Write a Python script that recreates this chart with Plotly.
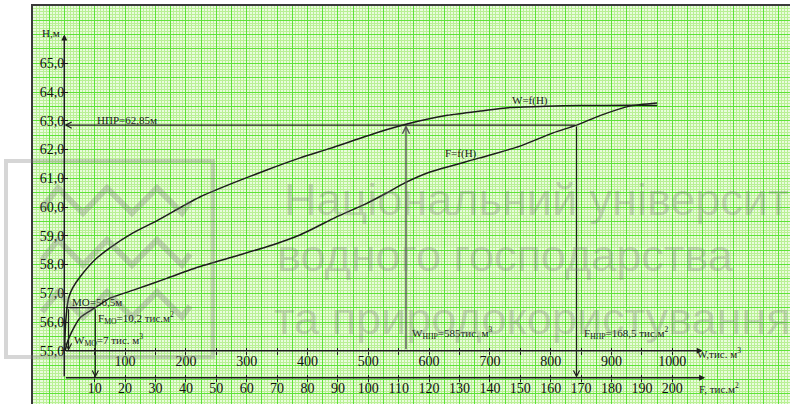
import plotly.graph_objects as go

# ---------------- data ----------------
H_TICKS = [55, 56, 57, 58, 59, 60, 61, 62, 63, 64, 65]
H_TICK_TEXT = ["55,0", "56,0", "57,0", "58,0", "59,0", "60,0",
               "61,0", "62,0", "63,0", "64,0", "65,0"]
W_TICKS = list(range(50, 1001, 50))
W_TICK_TEXT = [str(v) if v % 100 == 0 else "" for v in W_TICKS]
F_TICKS = list(range(10, 201, 10))
F_TICK_TEXT = [str(v) for v in F_TICKS]

# W = f(H) curve (W in thousand m3, H in m)
W_CURVE_W = [0.3, 1, 2, 3.5, 5, 8, 14, 25.8, 50, 75, 113, 152, 194, 223, 278,
             333, 388, 437, 519, 562, 630, 684, 733, 793, 848, 930, 975]
W_CURVE_H = [55.0, 55.4, 55.9, 56.3, 56.6, 56.9, 57.2, 57.57, 58.16, 58.58, 59.1,
             59.52, 60.02, 60.35, 60.84, 61.29, 61.71, 62.04, 62.62, 62.88, 63.19,
             63.34, 63.46, 63.51, 63.53, 63.54, 63.53]

# F = f(H) curve (F in thousand m2, H in m)
F_CURVE_F = [0.3, 1, 2.4, 5.2, 10.2, 15.0, 22.7, 33.7, 44.6, 55.6, 66.6, 77.5,
             89.4, 99.5, 106, 112, 120.3, 136.7, 149.9, 160.8, 168.5, 176.2, 186, 195]
F_CURVE_H = [55.0, 55.3, 55.65, 56.15, 56.5, 56.83, 57.11, 57.52, 57.93, 58.27,
             58.62, 59.03, 59.65, 60.13, 60.49, 60.84, 61.22, 61.71, 62.12, 62.58,
             62.85, 63.18, 63.51, 63.62]

# characteristic levels / guide lines
H_NPR = 62.85
W_NPR_LINE = 562      # where the vertical guide is drawn in the picture
F_NPR = 168.5
H_MO = 56.5
W_MO = 7
F_MO = 10.2
H_W_AXIS = 55.0
H_F_AXIS = 54.06
H_AXIS_TOP = 66.0
W_AXIS_END = 1050
F_AXIS_END = 210.8

# ---------------- layout geometry ----------------
FIG_W, FIG_H = 790, 404
M_L, M_R, M_T, M_B = 33, 0, 6, 0
PLOT_W = FIG_W - M_L - M_R
PLOT_H = FIG_H - M_T - M_B
X_RANGE_W = [-51.48, 1193.6]
W_PER_F = 5.0
X_RANGE_F = [v / W_PER_F for v in X_RANGE_W]
Y_RANGE = [53.150, 66.993]


def paper_y_of_h(h):
    return (h - Y_RANGE[0]) / (Y_RANGE[1] - Y_RANGE[0])


def paper_x_of_w(w):
    return (w - X_RANGE_W[0]) / (X_RANGE_W[1] - X_RANGE_W[0])


def px_x(px):
    return (px - M_L) / PLOT_W


def px_y(py):
    return (FIG_H - M_B - py) / PLOT_H


SERIF = "Liberation Serif"
INK = "#1c1c1c"
BG = "#e9fbdd"
MINOR = "#b9f095"
MAJOR = "#5ee238"

fig = go.Figure()

fig.add_trace(go.Scatter(x=W_CURVE_W, y=W_CURVE_H, xaxis="x", yaxis="y", mode="lines",
                         line=dict(color=INK, width=1.5, shape="spline", smoothing=0.6),
                         showlegend=False, hoverinfo="skip"))
fig.add_trace(go.Scatter(x=F_CURVE_F, y=F_CURVE_H, xaxis="x2", yaxis="y", mode="lines",
                         line=dict(color=INK, width=1.5, shape="spline", smoothing=0.6),
                         showlegend=False, hoverinfo="skip"))
# empty traces so every helper axis is drawn
for xa, ya in [("x3", "y"), ("x4", "y"), ("x5", "y"), ("x", "y2"), ("x", "y3")]:
    fig.add_trace(go.Scatter(x=[None], y=[None], xaxis=xa, yaxis=ya, mode="lines",
                             showlegend=False, hoverinfo="skip"))

tickfont = dict(family=SERIF, size=14, color="#111")
common_free = dict(showgrid=False, zeroline=False, showline=False, automargin=False,
                   fixedrange=True, anchor="free", tickcolor=INK, tickwidth=1)

layout = dict(
    width=FIG_W, height=FIG_H,
    margin=dict(l=M_L, r=M_R, t=M_T, b=M_B, pad=0, autoexpand=False),
    paper_bgcolor="white", plot_bgcolor=BG,
    showlegend=False,
    xaxis=dict(range=X_RANGE_W, tick0=0, dtick=25, showgrid=True, gridcolor=MAJOR,
               gridwidth=1, minor=dict(tick0=0, dtick=5, showgrid=True, gridcolor=MINOR,
                                        gridwidth=1),
               showticklabels=False, ticks="", zeroline=False, showline=True,
               linecolor="#3a3a3a", linewidth=1.5, side="top", automargin=False,
               fixedrange=True),
    yaxis=dict(range=Y_RANGE, tick0=55, dtick=0.5, showgrid=True, gridcolor=MAJOR,
               gridwidth=1, minor=dict(tick0=55, dtick=0.1, showgrid=True, gridcolor=MINOR,
                                        gridwidth=1),
               showticklabels=False, ticks="", zeroline=False, showline=True,
               linecolor="#3a3a3a", linewidth=1.5, side="left", automargin=False,
               fixedrange=True),
    # F scale: labels + inside ticks
    xaxis2=dict(overlaying="x", range=X_RANGE_F, position=paper_y_of_h(H_F_AXIS),
                tickmode="array", tickvals=F_TICKS, ticktext=F_TICK_TEXT, ticks="inside",
                ticklen=3, tickfont=tickfont, side="bottom", **common_free),
    # W scale: labels + inside ticks
    xaxis3=dict(overlaying="x", range=X_RANGE_W, position=paper_y_of_h(H_W_AXIS),
                tickmode="array", tickvals=W_TICKS, ticktext=W_TICK_TEXT, ticks="inside",
                ticklen=3, tickfont=tickfont, side="bottom", **common_free),
    # W scale: outside ticks
    xaxis4=dict(overlaying="x", range=X_RANGE_W, position=paper_y_of_h(H_W_AXIS),
                tickmode="array", tickvals=W_TICKS, ticks="outside", ticklen=3,
                showticklabels=False, side="bottom", **common_free),
    # F scale: outside ticks
    xaxis5=dict(overlaying="x", range=X_RANGE_F, position=paper_y_of_h(H_F_AXIS),
                tickmode="array", tickvals=F_TICKS, ticks="outside", ticklen=3,
                showticklabels=False, side="bottom", **common_free),
    # H scale: labels + inside ticks
    yaxis2=dict(overlaying="y", range=Y_RANGE, position=paper_x_of_w(0),
                tickmode="array", tickvals=H_TICKS, ticktext=H_TICK_TEXT, ticks="inside",
                ticklen=3, tickfont=tickfont, side="left", **common_free),
    yaxis3=dict(overlaying="y", range=Y_RANGE, position=paper_x_of_w(0),
                tickmode="array", tickvals=H_TICKS, ticks="outside", ticklen=3,
                showticklabels=False, side="left", **common_free),
)
fig.update_layout(**layout)


def guide(x_tail, y_tail, x_head, y_head, xref="x", head=5, width=1.2, size=1.0,
          color=INK):
    return dict(x=x_head, y=y_head, ax=x_tail, ay=y_tail, xref=xref, yref="y",
                axref=xref, ayref="y", text="", showarrow=True, arrowhead=head,
                arrowsize=size, arrowwidth=width, arrowcolor=color, standoff=0,
                startstandoff=0, font=dict(size=1))


def label(x, y, text, xref="x", xanchor="left", size=11):
    return dict(x=x, y=y, xref=xref, yref="y", text=text, showarrow=False,
                xanchor=xanchor, yanchor="middle",
                font=dict(family=SERIF, size=size, color=INK))


annotations = [
    # axes with arrows
    guide(0, H_F_AXIS, 0, H_AXIS_TOP, head=2, width=1.5, size=0.8),
    guide(0, H_W_AXIS, W_AXIS_END, H_W_AXIS, head=2, width=1.5, size=0.8),
    guide(0, H_F_AXIS, F_AXIS_END, H_F_AXIS, xref="x2", head=2, width=1.5, size=0.8),
    # НПР guide lines
    guide(F_NPR, H_NPR, 0, H_NPR, xref="x2", head=5, width=1.2),
    guide(W_NPR_LINE, H_W_AXIS, W_NPR_LINE, H_NPR, head=5, width=1.4, color="#555"),
    guide(F_NPR, H_NPR, F_NPR, H_F_AXIS, xref="x2", head=5, width=1.2),
    # МО guide lines
    guide(0, H_MO, F_MO, H_MO, xref="x2", head=0, width=1.2),
    guide(F_MO, H_MO, F_MO, H_F_AXIS, xref="x2", head=5, width=1.2),
    guide(W_MO, H_MO, W_MO, H_W_AXIS, head=5, width=1.2),
    # texts
    label(50.5, 63.03, "НПР=62,85м"),
    label(733, 63.69, "W=f(H)"),
    label(124.6, 61.88, "F=f(H)", xref="x2"),
    label(9.4, 56.70, "МО=56,5м"),
    label(10.4, 56.14, "F<sub>МО</sub>=10,2 тис.м<sup>2</sup>", xref="x2"),
    label(12.7, 55.38, "W<sub>МО</sub>=7 тис. м<sup>3</sup>"),
    label(568, 55.62, "W<sub>НПР</sub>=585тис. м<sup>3</sup>"),
    label(170.3, 55.62, "F<sub>НПР</sub>=168,5 тис.м<sup>2</sup>", xref="x2"),
    label(-3, 66.05, "H,м", xanchor="right"),
    label(1037, 54.92, "W,тис. м<sup>3</sup>"),
    label(208, 53.71, "F, тис.м<sup>2</sup>", xref="x2"),
]

# watermark text
WM = "rgba(120,120,120,0.30)"
for txt, px0, pyc in [("Національний університет", 282, 199),
                      ("водного господарства", 275, 256),
                      ("та природокористування", 272, 318)]:
    annotations.append(dict(x=px_x(px0), y=px_y(pyc), xref="paper", yref="paper",
                            text=txt, showarrow=False, xanchor="left", yanchor="middle",
                            font=dict(family="Liberation Sans", size=45, color=WM)))

fig.update_layout(annotations=annotations)

# watermark logo
shapes = [dict(type="rect", xref="paper", yref="paper", x0=px_x(6), x1=px_x(213),
               y0=px_y(357), y1=px_y(161), line=dict(color=WM, width=4),
               fillcolor="rgba(0,0,0,0)", layer="above")]
for top in (188, 240, 292):
    xs = [42, 58, 83, 107, 132, 157, 182, 190]
    ys = [top + 25 if i % 2 == 0 else top for i in range(len(xs))]
    ys[0] = top + 20
    ys[-1] = top + 14
    path = "M " + " L ".join(f"{px_x(a):.5f},{px_y(b):.5f}" for a, b in zip(xs, ys))
    shapes.append(dict(type="path", xref="paper", yref="paper", path=path,
                       line=dict(color=WM, width=6), layer="above"))
fig.update_layout(shapes=shapes)

fig.write_html("out.html",
               config={"displayModeBar": False},
               post_script="document.body.style.margin='0';"
                           "document.body.style.padding='0';"
                           "document.body.style.overflow='hidden';")
